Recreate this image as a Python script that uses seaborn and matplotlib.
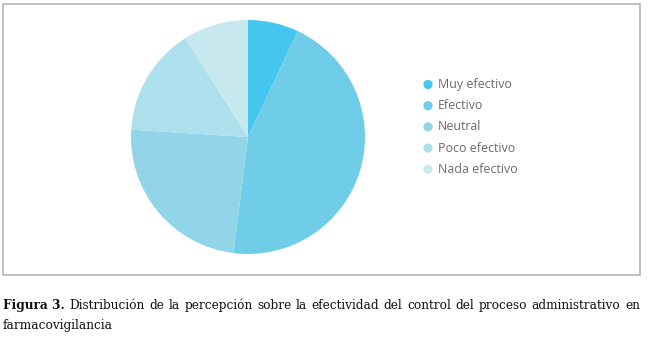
import matplotlib
matplotlib.use("Agg")
import matplotlib.pyplot as plt
from matplotlib.patches import Rectangle
import seaborn as sns

categories = ["Muy efectivo", "Efectivo", "Neutral", "Poco efectivo", "Nada efectivo"]
values = [7, 45, 24, 15, 9]
colors = ["#45C6EE", "#6FCDE8", "#93D5E8", "#ADDFEC", "#C8E8F0"]

caption_bold = "Figura 3."
caption_line1 = "Distribución de la percepción sobre la efectividad del control del proceso administrativo en"
caption_line2 = "farmacovigilancia"

sns.set_theme(style="white")
plt.rcParams["font.family"] = ["Open Sans", "DejaVu Sans"]

W, H = 649, 347
fig = plt.figure(figsize=(W / 100, H / 100), dpi=100)
fig.patch.set_facecolor("white")

# overlay in pixel coordinates for frame, legend and caption
ov = fig.add_axes([0, 0, 1, 1])
ov.set_xlim(0, W)
ov.set_ylim(H, 0)
ov.axis("off")
ov.add_patch(Rectangle((3, 4), 637, 271, fill=False, edgecolor="#b5b5b5", lw=1.2))

# pie
cx, cy, r = 248, 137, 117
ax = fig.add_axes([(cx - r) / W, 1 - (cy + r) / H, 2 * r / W, 2 * r / H])
ax.pie(values, colors=colors, startangle=90, counterclock=False,
       wedgeprops=dict(linewidth=0), radius=1)
ax.set_xlim(-1, 1)
ax.set_ylim(-1, 1)
ax.set_aspect("equal")
ax.axis("off")

# legend
for i, (lab, col) in enumerate(zip(categories, colors)):
    y = 84.5 + i * 21.2
    ov.scatter([428], [y], s=44, color=col, edgecolor="none")
    ov.text(438, y, lab, fontsize=8.9, color="#6a6a6a", va="center", ha="left",
            family=["Open Sans", "DejaVu Sans"])

# caption, first line justified across the frame width
serif = ["DejaVu Serif"]
fs = 8.7
fig.canvas.draw()
rend = fig.canvas.get_renderer()

def width_px(s, weight="normal"):
    t = ov.text(0, 0, s, fontsize=fs, family=serif, weight=weight)
    bb = t.get_window_extent(renderer=rend)
    t.remove()
    return bb.width

words = [(caption_bold, "bold")] + [(w, "normal") for w in caption_line1.split()]
x0, x1 = 3, 640
widths = [width_px(w, wt) for w, wt in words]
gap = (x1 - x0 - sum(widths)) / (len(words) - 1)
x = x0
y1 = 309
for (w, wt), wd in zip(words, widths):
    ov.text(x, y1, w, fontsize=fs, family=serif, weight=wt, color="#111111",
            va="baseline", ha="left")
    x += wd + gap
ov.text(x0, y1 + 20, caption_line2, fontsize=fs, family=serif, color="#111111",
        va="baseline", ha="left")

fig.savefig("out.png", dpi=100, facecolor="white")
